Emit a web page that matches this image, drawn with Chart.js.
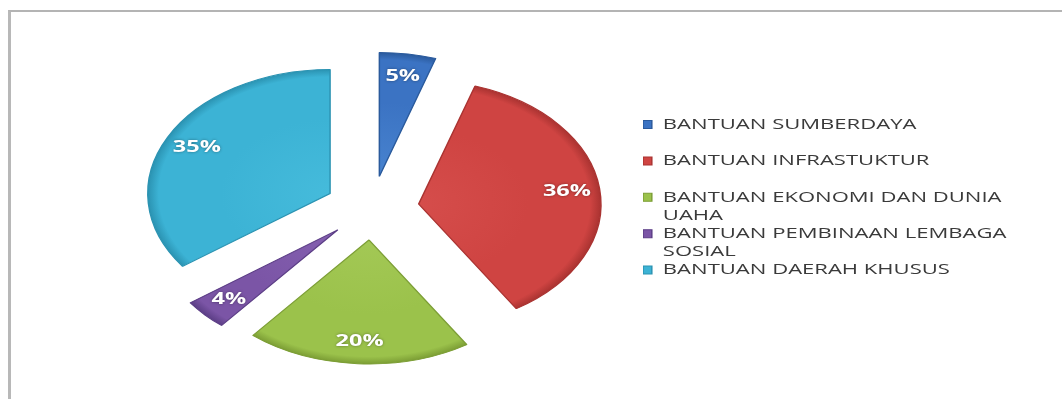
<!DOCTYPE html>
<html>
<head>
<meta charset="utf-8">
<script src="https://cdn.jsdelivr.net/npm/chart.js@4.4.1/dist/chart.umd.min.js"></script>
<style>
  html, body { margin: 0; padding: 0; background: #fff; overflow: hidden; }
  #frame {
    position: absolute; left: 8px; top: 10px; width: 1100px; height: 420px;
    border-left: 3px solid #b8b8b8; border-top: 2px solid #b4b4b4;
  }
  #chart { position: absolute; left: 0; top: 0; }
</style>
</head>
<body>
<div id="frame"></div>
<canvas id="chart" width="1062" height="399"></canvas>
<script>
// legend lines as they wrap in the original
const categories = [
    ['BANTUAN SUMBERDAYA'],
    ['BANTUAN INFRASTUKTUR'],
    ['BANTUAN EKONOMI DAN DUNIA', 'UAHA'],
    ['BANTUAN PEMBINAAN LEMBAGA', 'SOSIAL'],
    ['BANTUAN DAERAH KHUSUS']
];
const shares = [5, 36, 20, 4, 35];

const sliceColors = ['#3b73c3', '#cf4442', '#9bc24b', '#7b55a6', '#3cb3d5'];
const lightColors = ['#4883cf', '#d54d4b', '#a3c855', '#8460b0', '#45bbdb'];
const edgeColors  = ['#2a5a9c', '#aa3331', '#7c9e35', '#5c3e86', '#2b93b2'];

const STRETCH = 1.47;     // the picture is wider than tall
const PIE_RADIUS = 124;
const EXPLODE = 32;
const LABEL_AT = 0.82;
const LEGEND_LEFT = 643;

function sliceFill(c) {
    const i = c.dataIndex;
    const area = c.chart.chartArea;
    if (!area) return sliceColors[i];
    const cx = (area.left + area.right) / 2;
    const cy = (area.top + area.bottom) / 2;
    const g = c.chart.ctx.createRadialGradient(cx, cy, 0, cx, cy, PIE_RADIUS);
    g.addColorStop(0, lightColors[i]);
    g.addColorStop(0.6, sliceColors[i]);
    g.addColorStop(0.94, sliceColors[i]);
    g.addColorStop(1, edgeColors[i]);
    return g;
}

// draw each slice pulled out from the centre, stretched sideways
const explodedPie = {
    id: 'explodedPie',
    beforeDatasetDraw(chart, args) {
        const ctx = chart.ctx;
        args.meta.data.forEach(arc => {
            const mid = (arc.startAngle + arc.endAngle) / 2;
            ctx.save();
            ctx.translate(arc.x, arc.y);
            ctx.scale(STRETCH, 1);
            ctx.translate(Math.cos(mid) * EXPLODE, Math.sin(mid) * EXPLODE);
            ctx.translate(-arc.x, -arc.y);
            arc.draw(ctx);
            ctx.restore();
        });
        return false;
    }
};

const pctLabels = {
    id: 'pctLabels',
    afterDatasetsDraw(chart) {
        const ctx = chart.ctx;
        const total = shares.reduce((a, b) => a + b, 0);
        chart.getDatasetMeta(0).data.forEach((arc, i) => {
            const mid = (arc.startAngle + arc.endAngle) / 2;
            const rr = EXPLODE + arc.outerRadius * LABEL_AT;
            ctx.save();
            ctx.translate(arc.x, arc.y);
            ctx.scale(STRETCH, 1);
            ctx.font = 'bold 16px "Open Sans"';
            ctx.fillStyle = '#ffffff';
            ctx.textAlign = 'center';
            ctx.textBaseline = 'middle';
            ctx.shadowColor = 'rgba(0,0,0,0.4)';
            ctx.shadowBlur = 3;
            ctx.fillText(Math.round(shares[i] / total * 100) + '%', Math.cos(mid) * rr, Math.sin(mid) * rr);
            ctx.restore();
        });
    }
};

// legend is drawn before the datasets, so stretch it the same way
const legendStretch = {
    id: 'legendStretch',
    beforeDraw(chart) {
        const ctx = chart.ctx;
        const left = chart.legend.left;
        ctx.save();
        ctx.translate(left, 0);
        ctx.scale(STRETCH, 1);
        ctx.translate(-left, 0);
    },
    beforeDatasetsDraw(chart) {
        chart.ctx.restore();
    }
};

const chart = new Chart(document.getElementById('chart'), {
    type: 'pie',
    data: {
        labels: categories,
        datasets: [{
            data: shares,
            radius: PIE_RADIUS,
            backgroundColor: sliceFill,
            borderColor: edgeColors,
            borderWidth: 1
        }]
    },
    options: {
        responsive: false,
        animation: false,
        layout: { padding: { left: 101, top: 17, right: 0, bottom: 0 } },
        plugins: {
            tooltip: { enabled: false },
            legend: {
                position: 'right',
                labels: {
                    boxWidth: 6,
                    boxHeight: 8,
                    padding: 0,
                    color: '#3a3a3a',
                    font: { family: '"Open Sans"', size: 15, lineHeight: '18.2px' },
                    generateLabels: () => categories.map((lines, i) => ({
                        text: lines.length > 1 ? lines : [lines[0], ''],
                        fillStyle: sliceColors[i],
                        strokeStyle: edgeColors[i],
                        lineWidth: 1,
                        fontColor: '#3a3a3a',
                        hidden: false,
                        index: i
                    }))
                }
            }
        }
    },
    plugins: [explodedPie, pctLabels, legendStretch]
});

chart.config.options.layout.padding.right = chart.width - LEGEND_LEFT - chart.legend.width;
chart.update();
</script>
</body>
</html>
